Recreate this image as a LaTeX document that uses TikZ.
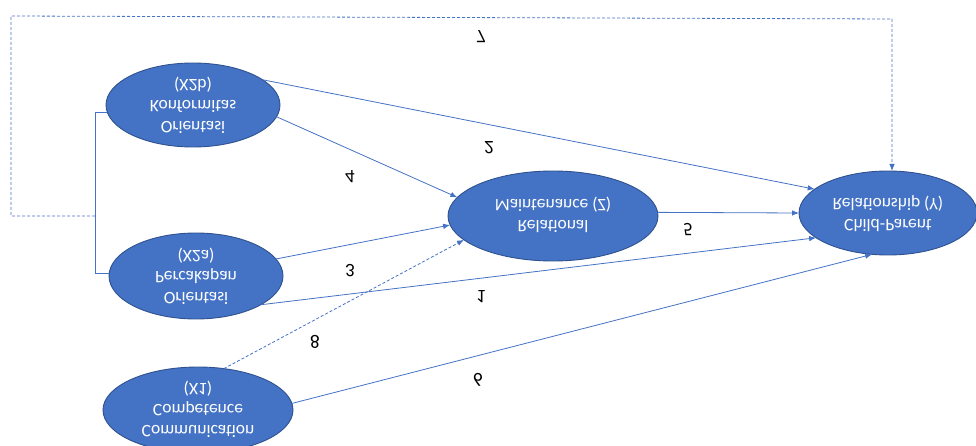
\documentclass[tikz,border=0pt]{standalone}
\usepackage{graphicx}
\usepackage{fontspec}
\setmainfont{Carlito}
\usetikzlibrary{arrows.meta,shapes.geometric}
\definecolor{ofblue}{HTML}{4472C4}
\definecolor{ofedge}{HTML}{2F528F}
\newcommand{\flipv}[1]{\scalebox{1}[-1]{#1}}
\begin{document}
\begin{tikzpicture}[x=1pt,y=-1pt,
  ell/.style={ellipse,draw=ofedge,line width=0.9pt,fill=ofblue,inner sep=0pt,outer sep=0pt},
  etext/.style={text=white,font=\fontsize{17.5}{21}\selectfont,inner sep=0pt},
  num/.style={text=black,font=\fontsize{19}{21}\selectfont,inner sep=0pt},
  conn/.style={draw=ofblue,line width=0.8pt},
  arr/.style={conn,-{Latex[length=7pt,width=5.5pt]}},
  dsh/.style={dash pattern=on 3pt off 2pt}
]
\useasboundingbox (0,0) rectangle (976,446);
\clip (0,0) rectangle (976,446);

% ellipses
\node[ell,minimum width=174pt,minimum height=84pt] (x2b) at (193,105) {};
\node[ell,minimum width=174pt,minimum height=86pt] (x2a) at (196,276) {};
\node[ell,minimum width=190pt,minimum height=86pt] (x1) at (198,410) {};
\node[ell,minimum width=210pt,minimum height=90pt] (z) at (553,216) {};
\node[ell,minimum width=178pt,minimum height=84pt] (y) at (888,213) {};

\node[etext] at (x2b) {\flipv{\begin{tabular}{@{}c@{}}Orientasi\\Konformitas\\(X2b)\end{tabular}}};
\node[etext] at (x2a) {\flipv{\begin{tabular}{@{}c@{}}Orientasi\\Percakapan\\(X2a)\end{tabular}}};
\node[etext] at (198,409) {\flipv{\begin{tabular}{@{}c@{}}Communication\\Competence\\(X1)\end{tabular}}};
\node[etext] at (553,214) {\flipv{\begin{tabular}{@{}c@{}}Relational\\Maintenance (Z)\end{tabular}}};
\node[etext] at (y) {\flipv{\begin{tabular}{@{}c@{}}Child-Parent\\Relationship (Y)\end{tabular}}};

% bracket joining the two Orientasi ellipses
\coordinate (brk) at (95,0);
\draw[conn] (x2b.185) -| (brk |- x2a.178) -- (x2a.178);

% dashed path 7
\coordinate (d0) at (95,216);
\coordinate (d1) at (11,216);
\coordinate (d2) at (11,16);
\coordinate (d3) at (892,19);
\draw[arr,dsh] (d0) -- (d1) -- (d2) -- (d3) -- (d3 |- y.north);

% arrows
\draw[arr] (x2b.20) -- (y.162);
\draw[arr] (x2b.352) -- (z.169);
\draw[arr] (z.2) -- (y.180);
\draw[arr] (x2a.12) -- (z.185);
\draw[arr] (x2a.336) -- (y.199);
\draw[arr,dsh] (x1.58) -- (z.195);
\draw[arr] (x1.4) -- (y.249);

% numbers
\node[num] (n7) at (481,37) {\flipv{7}};
\node[num] (n2) at (489,148) {\flipv{2}};
\node[num] (n4) at (350,177) {\flipv{4}};
\node[num] (n5) at (688,230) {\flipv{5}};
\node[num] (n3) at (350,271) {\flipv{3}};
\node[num] (n1) at (481,297) {\flipv{1}};
\node[num] (n8) at (315,342) {\flipv{8}};
\node[num] (n6) at (478,380) {\flipv{6}};
\end{tikzpicture}
\end{document}
